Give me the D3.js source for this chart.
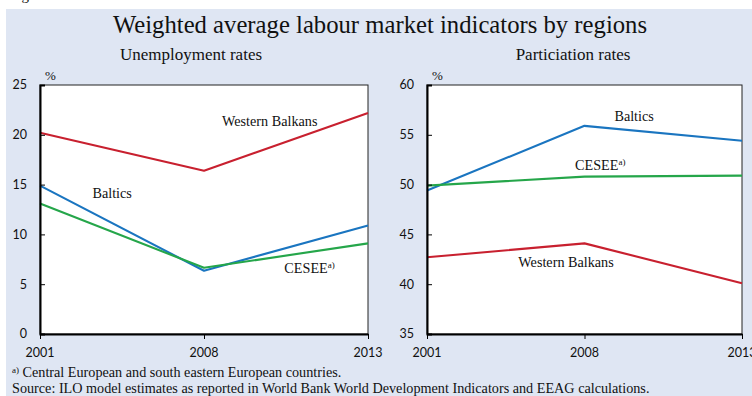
<!DOCTYPE html>
<html>
<head>
<meta charset="utf-8">
<script src="https://cdn.jsdelivr.net/npm/d3@7/dist/d3.min.js"></script>
<style>
  html, body { margin: 0; padding: 0; background: #ffffff; }
  svg { display: block; }
</style>
</head>
<body>
<svg id="chart" width="752" height="396"></svg>
<script>
// Years shown on both panels (evenly spaced categories)
const years = ["2001", "2008", "2013"];

// Unemployment rates, %
const unempWesternBalkans = [20.2, 16.4, 22.2];
const unempBaltics = [14.9, 6.35, 10.9];
const unempCESEE = [13.1, 6.65, 9.1];
const unempTicks = [0, 5, 10, 15, 20, 25];

// Participation rates, %
const partBaltics = [49.4, 55.9, 54.4];
const partCESEE = [49.9, 50.8, 50.9];
const partWesternBalkans = [42.7, 44.1, 40.1];
const partTicks = [35, 40, 45, 50, 55, 60];

const colors = { wb: "#c8202f", baltics: "#1a75c0", cesee: "#25a64a" };

const svg = d3.select("#chart");
const serif = "'Liberation Serif', 'Times New Roman', serif";
const sans = "Lato, 'Open Sans', sans-serif";

// page background
svg.append("rect").attr("x", 6).attr("y", 9).attr("width", 746).attr("height", 387).attr("fill", "#dfe6f3");

// caption fragment above the panel
svg.append("text").attr("x", 9).attr("y", -0.5).attr("font-family", serif).attr("font-size", 15).attr("fill", "#111").text("Figure");

svg.append("text").attr("x", 380).attr("y", 33).attr("text-anchor", "middle")
  .attr("font-family", serif).attr("font-size", 24.7).attr("fill", "#111")
  .text("Weighted average labour market indicators by regions");

function panel(cfg) {
  const g = svg.append("g");
  const x = d3.scalePoint().domain(years).range([cfg.left, cfg.right]);
  const y = d3.scaleLinear().domain(cfg.domain).range([cfg.bottom, cfg.top]);

  g.append("rect").attr("x", cfg.left).attr("y", cfg.top)
    .attr("width", cfg.right - cfg.left).attr("height", cfg.bottom - cfg.top)
    .attr("fill", "#fff").attr("stroke", "#222").attr("stroke-width", 1);

  // subtitle
  g.append("text").attr("x", cfg.subX).attr("y", 60).attr("text-anchor", "middle")
    .attr("font-family", serif).attr("font-size", 17).attr("fill", "#111").text(cfg.subtitle);

  g.append("text").attr("x", cfg.left + 5).attr("y", 80)
    .attr("font-family", serif).attr("font-size", 13).attr("fill", "#111").text("%");

  // lines
  const line = d3.line().x((d, i) => x(years[i])).y(d => y(d));
  cfg.series.forEach(s => {
    g.append("path").datum(s.values).attr("d", line)
      .attr("fill", "none").attr("stroke", s.color).attr("stroke-width", 2.1)
      .attr("stroke-linejoin", "round");
  });

  // y axis: ticks point inward
  const ya = d3.axisRight(y).tickValues(cfg.ticks).tickSize(5).tickFormat("");
  g.append("g").attr("transform", `translate(${cfg.left},0)`).call(ya)
    .call(a => a.select(".domain").attr("stroke", "#000").attr("stroke-width", 2))
    .call(a => a.selectAll(".tick line").attr("stroke", "#000"));
  g.selectAll(".ylab").data(cfg.ticks).enter().append("text")
    .attr("x", cfg.left - 13).attr("y", d => y(d)).attr("dy", "0.35em")
    .attr("text-anchor", "end").attr("font-family", sans).attr("font-size", 12.5)
    .attr("fill", "#111").text(d => d);

  // x axis: ticks point outward
  const xa = d3.axisBottom(x).tickSize(5).tickSizeOuter(0).tickFormat("");
  g.append("g").attr("transform", `translate(0,${cfg.bottom})`).call(xa)
    .call(a => a.select(".domain").attr("stroke", "#000").attr("stroke-width", 2.2))
    .call(a => a.selectAll(".tick line").attr("stroke", "#000"));
  g.selectAll(".xlab").data(years).enter().append("text")
    .attr("x", d => x(d)).attr("y", 357).attr("text-anchor", "middle")
    .attr("font-family", sans).attr("font-size", 12.5).attr("fill", "#111").text(d => d);

  // series labels, anchored in data space (category index, value)
  const xi = d3.scaleLinear().domain([0, years.length - 1]).range([cfg.left, cfg.right]);
  cfg.labels.forEach(l => {
    const t = g.append("text").attr("x", xi(l.at)).attr("y", y(l.value))
      .attr("font-family", serif).attr("font-size", 14.2).attr("fill", "#111");
    t.append("tspan").text(l.text);
    if (l.sup) t.append("tspan").attr("font-size", 9).attr("dy", -5).text(l.sup);
  });
}

panel({
  left: 40, right: 368, top: 85, bottom: 334, domain: [0, 25], ticks: unempTicks,
  subtitle: "Unemployment rates", subX: 191,
  series: [
    { values: unempWesternBalkans, color: colors.wb },
    { values: unempBaltics, color: colors.baltics },
    { values: unempCESEE, color: colors.cesee }
  ],
  labels: [
    { text: "Western Balkans", at: 1.11, value: 20.9 },
    { text: "Baltics", at: 0.32, value: 13.7 },
    { text: "CESEE", sup: "a)", at: 1.49, value: 6.1 }
  ]
});

panel({
  left: 427, right: 742, top: 85, bottom: 334, domain: [35, 60], ticks: partTicks,
  subtitle: "Particiation rates", subX: 573,
  series: [
    { values: partBaltics, color: colors.baltics },
    { values: partCESEE, color: colors.cesee },
    { values: partWesternBalkans, color: colors.wb }
  ],
  labels: [
    { text: "Baltics", at: 1.19, value: 56.4 },
    { text: "CESEE", sup: "a)", at: 0.94, value: 51.5 },
    { text: "Western Balkans", at: 0.58, value: 41.7 }
  ]
});

// notes
const note = svg.append("text").attr("x", 12).attr("y", 377)
  .attr("font-family", serif).attr("font-size", 14.2).attr("fill", "#111");
note.append("tspan").attr("font-size", 9).attr("dy", -4).text("a)");
note.append("tspan").attr("dy", 4).text(" Central European and south eastern European countries.");
svg.append("text").attr("x", 12).attr("y", 393)
  .attr("font-family", serif).attr("font-size", 14.2).attr("fill", "#111")
  .text("Source: ILO model estimates as reported in World Bank World Development Indicators and EEAG calculations.");
</script>
</body>
</html>
